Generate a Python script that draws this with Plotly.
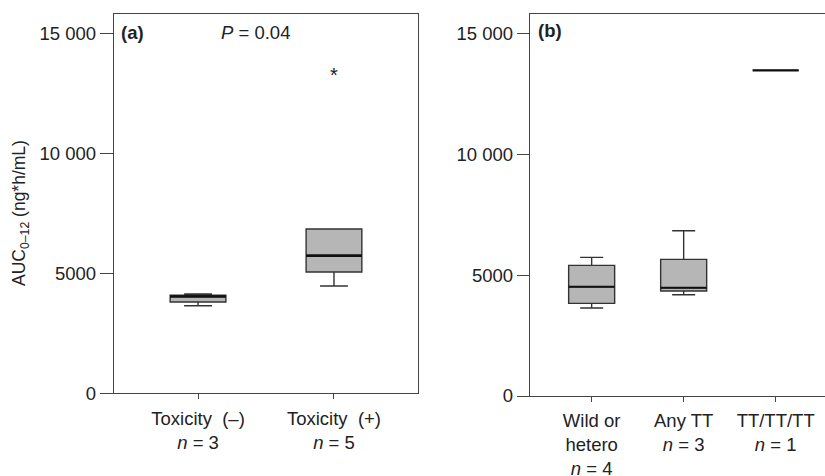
import plotly.graph_objects as go

# ---- Data ----
# Panel (a): toxicity groups
a_labels = ["Toxicity&nbsp; (–)<br><i>n</i> = 3", "Toxicity&nbsp; (+)<br><i>n</i> = 5"]
a_low = [3650, 4470]
a_q1 = [3805, 5050]
a_median = [4035, 5735]
a_q3 = [4085, 6845]
a_high = [4140, 6845]
a_outlier_x = [1]
a_outlier_y = [13440]

# Panel (b): genotype groups
b_labels = ["Wild or<br>hetero<br><i>n</i> = 4", "Any TT<br><i>n</i> = 3", "TT/TT/TT<br><i>n</i> = 1"]
b_low = [3636, 4186, 13460]
b_q1 = [3830, 4339, 13460]
b_median = [4516, 4475, 13460]
b_q3 = [5400, 5648, 13460]
b_high = [5731, 6830, 13460]

y_tickvals = [0, 5000, 10000, 15000]
y_ticktext = ["0", "5000", "10 000", "15 000"]

FONT = "Liberation Sans, Arial, sans-serif"
TXT = "#222222"
AX = "#444444"
FILL = "#b6b6b6"

W = 825
H = 476

fig = go.Figure()

a_width = 0.41
b_width = 0.5

fig.add_trace(go.Box(
    x=list(range(len(a_labels))), q1=a_q1, median=a_median, q3=a_q3,
    lowerfence=a_low, upperfence=a_high, width=a_width,
    fillcolor=FILL, line=dict(color="#333333", width=1.4),
    whiskerwidth=0.5, xaxis="x", yaxis="y", showlegend=False, hoverinfo="skip"))
for i, m in enumerate(a_median):
    fig.add_trace(go.Scatter(x=[i - a_width / 2, i + a_width / 2], y=[m, m], mode="lines",
                             line=dict(color="#111111", width=2.6), xaxis="x", yaxis="y",
                             showlegend=False, hoverinfo="skip"))

fig.add_trace(go.Box(
    x=list(range(len(b_labels))), q1=b_q1, median=b_median, q3=b_q3,
    lowerfence=b_low, upperfence=b_high, width=b_width,
    fillcolor=FILL, line=dict(color="#333333", width=1.4),
    whiskerwidth=0.5, xaxis="x2", yaxis="y2", showlegend=False, hoverinfo="skip"))
for i, m in enumerate(b_median):
    fig.add_trace(go.Scatter(x=[i - b_width / 2, i + b_width / 2], y=[m, m], mode="lines",
                             line=dict(color="#111111", width=2.2), xaxis="x2", yaxis="y2",
                             showlegend=False, hoverinfo="skip"))

annotations = []
for ox, oy in zip(a_outlier_x, a_outlier_y):
    annotations.append(dict(x=ox, y=oy, xref="x", yref="y", text="*", showarrow=False,
                            font=dict(family=FONT, size=20, color=TXT),
                            xanchor="center", yanchor="middle", yshift=-4))

annotations += [
    dict(x=119 / W, y=1 - 33 / H, xref="paper", yref="paper", text="<b>(a)</b>", showarrow=False,
         font=dict(family=FONT, size=18.5, color=TXT), xanchor="left", yanchor="middle"),
    dict(x=255 / W, y=1 - 33 / H, xref="paper", yref="paper", text="<i>P</i> = 0.04", showarrow=False,
         font=dict(family=FONT, size=18.5, color=TXT), xanchor="center", yanchor="middle"),
    dict(x=536 / W, y=1 - 31 / H, xref="paper", yref="paper", text="<b>(b)</b>", showarrow=False,
         font=dict(family=FONT, size=18.5, color=TXT), xanchor="left", yanchor="middle"),
    dict(x=21 / W, y=1 - 213 / H, xref="paper", yref="paper",
         text="AUC<sub>0–12</sub> (ng*h/mL)", showarrow=False, textangle=-90,
         font=dict(family=FONT, size=17.5, color=TXT), xanchor="center", yanchor="middle"),
]

axis_common = dict(showgrid=False, zeroline=False, showline=True, linecolor=AX, linewidth=1.3,
                   ticks="outside", tickcolor=AX, tickwidth=1.3, automargin=False,
                   tickfont=dict(family=FONT, size=18.5, color=TXT))

fig.update_layout(
    width=W, height=H,
    margin=dict(l=0, r=0, t=0, b=0),
    paper_bgcolor="white", plot_bgcolor="white",
    font=dict(family=FONT, color=TXT),
    annotations=annotations,
    xaxis=dict(axis_common, domain=[114 / W, 418 / W], range=[-0.618, 1.618],
               tickvals=list(range(len(a_labels))), ticktext=a_labels, ticklen=5,
               ticklabelstandoff=3, mirror=True, anchor="y"),
    yaxis=dict(axis_common, domain=[(H - 393.3) / H, (H - 14) / H], range=[0, 15800],
               tickvals=y_tickvals, ticktext=y_ticktext, ticklen=13, mirror=True, anchor="x"),
    xaxis2=dict(axis_common, domain=[530 / W, 1.0], range=[-0.67, 2.536],
                tickvals=list(range(len(b_labels))), ticktext=b_labels, ticklen=5,
                ticklabelstandoff=3, mirror=True, anchor="y2"),
    yaxis2=dict(axis_common, domain=[(H - 396) / H, (H - 14) / H], range=[0, 15790],
                tickvals=y_tickvals, ticktext=y_ticktext, ticklen=12, mirror=False, anchor="x2"),
)

fig.write_html("out.html", config={"displayModeBar": False},
               post_script="document.body.style.margin='0';document.body.style.overflow='hidden';")
